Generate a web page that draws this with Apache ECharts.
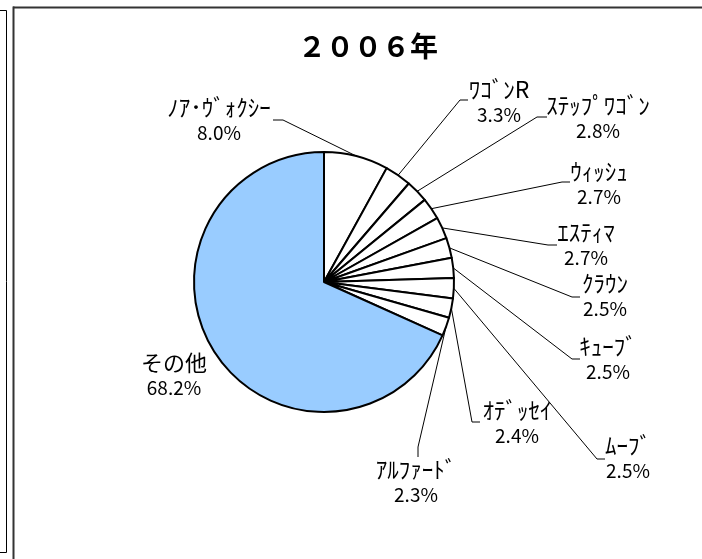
<!DOCTYPE html>
<html>
<head>
<meta charset="utf-8">
<script src="https://cdn.jsdelivr.net/npm/echarts@6/dist/echarts.min.js"></script>
<style>
html,body{margin:0;padding:0;background:#fff;}
#chart{width:702px;height:559px;}
</style>
</head>
<body>
<div id="chart"></div>
<script>
// ---- data ----
const titleText = '２００６年';
const categories = ['ﾉｱ･ｳﾞｫｸｼｰ', 'ﾜｺﾞﾝR', 'ｽﾃｯﾌﾟﾜｺﾞﾝ', 'ｳｨｯｼｭ', 'ｴｽﾃｨﾏ', 'ｸﾗｳﾝ', 'ｷｭｰﾌﾞ', 'ﾑｰﾌﾞ', 'ｵﾃﾞｯｾｲ', 'ｱﾙﾌｧｰﾄﾞ', 'その他'];
const shares = [8.0, 3.3, 2.8, 2.7, 2.7, 2.5, 2.5, 2.5, 2.4, 2.3, 68.2];

// ---- label layout (positions of label boxes and leader-line elbows) ----
const labelPos = [
  { x: 219, y: 120, elbow: [283, 120], end: [273, 120] },
  { x: 499, y: 102, elbow: [460, 100], end: [468, 100] },
  { x: 598, y: 118, elbow: [537, 117], end: [547, 117] },
  { x: 599, y: 184, elbow: [562, 182], end: [570, 182] },
  { x: 586, y: 245, elbow: [548, 245], end: [557, 245] },
  { x: 605, y: 296, elbow: [572, 297], end: [580, 297] },
  { x: 608, y: 359, elbow: [572, 359], end: [580, 359] },
  { x: 628, y: 458, elbow: [597, 459], end: [605, 459] },
  { x: 517, y: 423, elbow: [472, 422], end: [480, 422] },
  { x: 416, y: 482, elbow: [418, 447], end: [418, 457] },
  { x: 174, y: 375 }
];

const FONT = '"Noto Sans CJK JP", "Noto Sans", sans-serif';

const chart = echarts.init(document.getElementById('chart'), null, { renderer: 'canvas' });

const pieData = categories.map((name, i) => ({
  name: name,
  value: shares[i],
  itemStyle: { color: name === 'その他' ? '#99CCFF' : '#FFFFFF' },
  labelLine: { show: name !== 'その他' }
}));

chart.setOption({
  animation: false,
  backgroundColor: '#fff',
  title: {
    text: titleText,
    left: 298,
    top: 32,
    padding: 0,
    textStyle: { fontSize: 28, fontWeight: 'bold', color: '#000', fontFamily: FONT }
  },
  graphic: [
    { type: 'rect', shape: { x: -5, y: 10.5, width: 11.5, height: 542 }, style: { fill: 'none', stroke: '#000', lineWidth: 1 } },
    { type: 'line', shape: { x1: 13, y1: 7.5, x2: 702, y2: 7.5 }, style: { stroke: '#333', lineWidth: 2 } },
    { type: 'line', shape: { x1: 13.5, y1: 6.5, x2: 13.5, y2: 559 }, style: { stroke: '#333', lineWidth: 2 } }
  ],
  series: [{
    type: 'pie',
    center: [324, 282],
    radius: 130,
    startAngle: 90,
    clockwise: true,
    avoidLabelOverlap: false,
    itemStyle: { borderColor: '#000', borderWidth: 2 },
    emphasis: { disabled: true },
    label: {
      show: true,
      color: '#000',
      fontFamily: FONT,
      align: 'center',
      formatter: p => (p.name === 'その他' ? '{big|' : '{kana|') + p.name + '}\n{val|' + p.value.toFixed(1) + '%}',
      rich: {
        kana: { fontSize: 23, lineHeight: 25, color: '#000', fontFamily: FONT, align: 'center' },
        big: { fontSize: 22, lineHeight: 26, color: '#000', fontFamily: FONT, align: 'center' },
        val: { fontSize: 19, lineHeight: 25, color: '#000', fontFamily: FONT, align: 'center' }
      }
    },
    labelLine: {
      show: true,
      length: 20,
      length2: 10,
      lineStyle: { color: '#000', width: 1 }
    },
    labelLayout: function (params) {
      const lp = labelPos[params.dataIndex];
      const out = { x: lp.x, y: lp.y, align: 'center', verticalAlign: 'middle' };
      if (lp.elbow && params.labelLinePoints) {
        out.labelLinePoints = [params.labelLinePoints[0], lp.elbow, lp.end];
      }
      return out;
    },
    data: pieData
  }]
});
</script>
</body>
</html>
